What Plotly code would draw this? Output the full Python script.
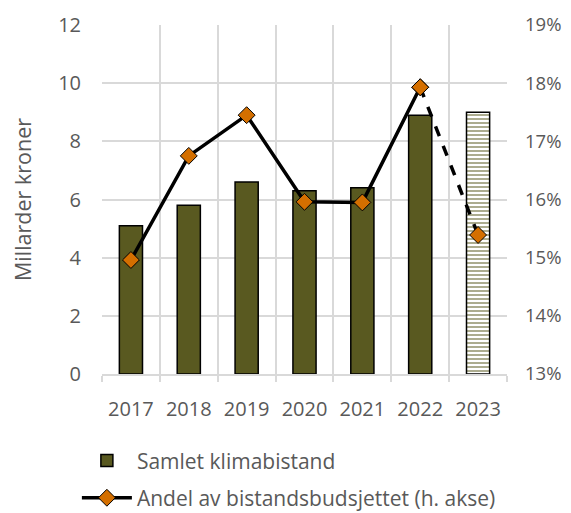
import plotly.graph_objects as go

years = ["2017", "2018", "2019", "2020", "2021", "2022", "2023"]
klima = [5.1, 5.8, 6.6, 6.3, 6.4, 8.9, 9.0]
andel = [0.1496, 0.1675, 0.1745, 0.1596, 0.1595, 0.1793, 0.1539]

olive = "#595920"
orange = "#D46F00"
grid = "#D9D9D9"
txt = "#595959"
font = "Open Sans"

fig = go.Figure()

fig.add_trace(go.Bar(
    x=years[:-1], y=klima[:-1], name="Samlet klimabistand",
    marker=dict(color=olive, line=dict(color="black", width=1.5)),
    width=0.40, yaxis="y", showlegend=True, legendgroup="a",
))
fig.add_trace(go.Bar(
    x=years[-1:], y=klima[-1:], name="Samlet klimabistand (2023)",
    marker=dict(color="white", line=dict(color="black", width=1.5),
                pattern=dict(shape="-", fgcolor=olive, bgcolor="white", size=4, solidity=0.5)),
    width=0.40, yaxis="y", showlegend=False, legendgroup="a",
))
fig.add_trace(go.Scatter(
    x=years[-2:], y=andel[-2:], mode="lines+markers", yaxis="y2",
    line=dict(color="black", width=3.5, dash="dash"),
    marker=dict(symbol="diamond", size=13, color=orange, line=dict(color="black", width=1)),
    showlegend=False, legendgroup="b",
))
fig.add_trace(go.Scatter(
    x=years[:-1], y=andel[:-1], mode="lines+markers", yaxis="y2",
    name="Andel av bistandsbudsjettet (h. akse)", legendgroup="b",
    line=dict(color="black", width=3.5),
    marker=dict(symbol="diamond", size=13, color=orange, line=dict(color="black", width=1)),
))

fig.update_layout(
    width=571, height=513,
    margin=dict(l=94, r=72, t=17, b=147, autoexpand=False),
    paper_bgcolor="white", plot_bgcolor="white",
    font=dict(family=font, size=20, color=txt),
    barmode="overlay",
    xaxis=dict(
        type="category", categoryorder="array", categoryarray=years,
        tickson="boundaries", showgrid=True, gridcolor=grid, gridwidth=1.5,
        ticks="outside", ticklen=6, tickcolor=grid, tickwidth=1.5,
        showline=True, linecolor=grid, linewidth=1.5,
        tickfont=dict(size=20, color=txt), ticklabelstandoff=16,
    ),
    yaxis=dict(
        range=[0, 12], dtick=2, showgrid=True, gridcolor=grid, gridwidth=1.5,
        zeroline=False, ticks="", tickfont=dict(size=20, color=txt),
        ticklabelstandoff=20,
        title=dict(text="Millarder kroner", font=dict(size=21.5, color=txt), standoff=20),
    ),
    yaxis2=dict(
        range=[0.13, 0.19], dtick=0.01, tickformat=".0%", overlaying="y", side="right",
        showgrid=False, zeroline=False, tickfont=dict(size=18.5, color=txt),
        ticklabelstandoff=17,
    ),
    legend=dict(
        orientation="v", x=-0.062, xanchor="left", y=-0.19, yanchor="top",
        font=dict(size=21, color=txt), traceorder="grouped",
        tracegroupgap=7, itemwidth=50,
    ),
)

fig.write_html("out.html")
